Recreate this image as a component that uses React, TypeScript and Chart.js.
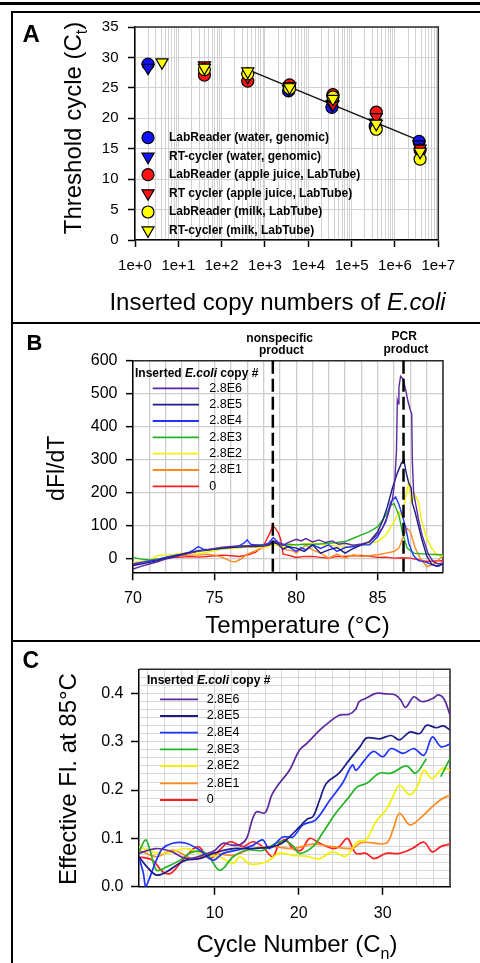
import React, { useEffect, useRef } from 'react';
import { Chart, registerables } from 'chart.js';
Chart.register(...registerables);

const FAM = "'Liberation Sans', Arial, Helvetica, sans-serif";
const fnt = (size: number, weight = 'normal', style = 'normal') => `${style} ${weight} ${size}px ${FAM}`;

// ---------------- Panel A data ----------------
const A_LABELS = [
  'LabReader (water, genomic)',
  'RT-cycler (water, genomic)',
  'LabReader (apple juice, LabTube)',
  'RT cycler (apple juice, LabTube)',
  'LabReader (milk, LabTube)',
  'RT-cycler (milk, LabTube)',
];
const A_WATER_X = [2, 3.5e3, 3.5e4, 3.5e5, 3.6e6];
const A_WATER_LR = [28.9, 24.5, 21.8, 18.7, 16.2];
const A_WATER_RT = [28.3, 24.8, 22.3, 19.3, 15.7];
const A_APPLE_X = [4e1, 4e2, 3.7e3, 3.7e4, 3.7e5, 3.8e6];
const A_APPLE_LR = [27.1, 26.1, 25.5, 23.9, 21.0, 14.8];
const A_APPLE_RT = [28.7, 26.8, 25.3, 22.3, 20.2, 15.0];
const A_MILK_X = [4e1, 4e2, 3.7e3, 3.7e4, 3.7e5, 3.8e6];
const A_MILK_LR = [28.0, 27.3, 24.9, 23.5, 18.2, 13.3];
const A_MILK_RT_X = [4.2, 4e1, 4e2, 3.7e3, 3.7e4, 3.7e5, 3.8e6];
const A_MILK_RT = [29.2, 28.3, 27.7, 25.1, 23.2, 19.1, 14.5];
const A_FIT_X = [4e2, 3.8e6];
const A_FIT_Y = [28.0, 16.3];
const A_Y_TICKS = [0, 5, 10, 15, 20, 25, 30, 35];
const A_DECADES = [0, 1, 2, 3, 4, 5, 6, 7];

// ---------------- Panel B / C legends ----------------
const COPY_LABELS = ['2.8E6', '2.8E5', '2.8E4', '2.8E3', '2.8E2', '2.8E1', '0'];
const COPY_COLORS = ['#5b2a9e', '#1c1c86', '#1f35ff', '#22b422', '#f2f200', '#ff8a1e', '#ff1e1e'];

// ---------------- Panel B data (Temperature °C, dFl/dT) ----------------
const B_E6 = [[70,-30],[70.5,-22],[71,-15],[71.5,-8],[72,0],[72.5,5],[73,12],[73.5,18],[74,24],[74.5,28],[75,32],[75.5,36],[76,38],[76.5,40],[77,40],[77.5,42],[78,40],[78.3,45],[78.6,55],[78.9,48],[79.2,42],[79.5,50],[80,60],[80.3,55],[80.6,62],[81,52],[81.4,58],[81.8,50],[82.2,55],[82.6,45],[83,48],[83.5,42],[84,46],[84.5,52],[85,75],[85.3,95],[85.6,130],[85.9,180],[86.05,240],[86.15,330],[86.2,480],[86.25,470],[86.3,520],[86.4,553],[86.55,545],[86.7,515],[86.85,478],[87,450],[87.08,440],[87.12,300],[87.2,200],[87.35,160],[87.5,120],[87.7,75],[87.9,45],[88.1,15],[88.4,-8],[88.7,-15],[89,-12]];
const B_E5 = [[70,-20],[70.5,-15],[71,-10],[71.5,-5],[72,2],[72.5,8],[73,14],[73.5,20],[74,25],[74.5,28],[75,30],[75.5,34],[76,35],[76.5,36],[77,38],[77.5,38],[78,40],[78.3,42],[78.6,50],[78.9,45],[79.2,30],[79.5,38],[80,33],[80.5,23],[81,43],[81.5,18],[82,28],[82.5,35],[83,18],[83.5,32],[84,43],[84.5,53],[85,83],[85.3,115],[85.6,160],[85.9,215],[86.2,260],[86.45,290],[86.6,300],[86.75,260],[86.9,230],[87.05,215],[87.12,170],[87.3,140],[87.5,100],[87.7,60],[88,10],[88.3,-15],[88.6,-22],[89,-15]];
const B_E4 = [[70,-15],[70.5,-10],[71,-6],[71.5,-2],[72,5],[72.5,10],[73,15],[73.5,22],[73.8,30],[74,38],[74.3,30],[74.6,28],[75,30],[75.5,33],[76,35],[76.5,40],[76.8,48],[77,58],[77.2,45],[77.6,42],[78,42],[78.3,48],[78.6,65],[78.9,50],[79.2,45],[79.6,35],[80,23],[80.3,35],[80.6,28],[81,43],[81.5,32],[82,43],[82.5,23],[83,35],[83.5,38],[84,43],[84.5,43],[85,68],[85.5,113],[85.8,173],[86.1,188],[86.3,165],[86.5,133],[86.7,98],[86.9,48],[87.2,10],[87.5,-5],[88,-10],[88.4,-18],[88.7,-22],[89,-15]];
const B_E3 = [[70,5],[70.5,0],[71,-3],[71.5,0],[72,5],[72.5,10],[73,15],[73.5,20],[74,24],[74.5,26],[75,30],[75.5,32],[76,36],[76.5,38],[77,40],[77.5,42],[78,44],[78.3,45],[78.6,52],[78.9,46],[79.2,42],[79.6,45],[80,43],[80.5,45],[81,44],[81.5,46],[82,48],[82.5,50],[83,53],[83.5,63],[84,73],[84.5,83],[85,98],[85.5,133],[85.8,163],[86,168],[86.3,133],[86.5,83],[86.8,33],[87.2,18],[87.6,16],[88,15],[88.5,14],[89,13]];
const B_E2 = [[70,-10],[70.5,-8],[71,-3],[71.5,10],[72,12],[72.5,14],[73,18],[73.5,20],[74,16],[74.5,20],[75,26],[75.5,30],[76,32],[76.5,34],[77,36],[77.5,35],[78,34],[78.3,38],[78.6,45],[78.9,40],[79.2,35],[79.6,40],[80,43],[80.5,46],[81,48],[81.5,45],[82,42],[82.5,40],[83,38],[83.5,40],[84,43],[84.5,48],[85,53],[85.5,73],[86,113],[86.3,143],[86.5,128],[86.65,173],[86.9,233],[87.05,173],[87.3,193],[87.5,173],[87.7,113],[88,63],[88.3,33],[88.6,13],[89,10]];
const B_E1 = [[70,-12],[70.5,-8],[71,-4],[71.5,0],[72,4],[72.5,8],[73,10],[73.5,12],[74,12],[74.5,15],[75,12],[75.5,5],[76,-7],[76.3,-8],[76.6,0],[77,15],[77.5,25],[78,35],[78.3,40],[78.6,50],[78.8,55],[79,40],[79.4,28],[79.8,25],[80,18],[80.3,30],[80.6,43],[81,28],[81.5,18],[82,3],[82.5,15],[83,3],[83.5,13],[84,8],[84.5,10],[85,13],[85.5,18],[86,23],[86.3,33],[86.6,73],[86.8,93],[87,83],[87.3,33],[87.6,3],[88,-22],[88.3,-18],[88.6,-10],[89,13]];
const B_ZERO = [[70,-18],[70.5,-10],[71,-5],[71.5,0],[72,3],[72.5,5],[73,6],[73.5,8],[74,6],[74.5,8],[75,10],[75.5,12],[76,10],[76.5,8],[77,12],[77.5,20],[78,40],[78.2,60],[78.4,80],[78.55,100],[78.7,95],[78.9,80],[79.05,60],[79.2,15],[79.5,12],[80,5],[80.5,8],[81,8],[81.5,5],[82,3],[82.5,8],[83,8],[83.5,10],[84,11],[84.5,8],[85,5],[85.5,6],[86,3],[86.5,4],[87,3],[87.5,-2],[88,-7],[88.5,-6],[89,-5]];
const B_SERIES = [B_E6, B_E5, B_E4, B_E3, B_E2, B_E1, B_ZERO];
const B_DASH_T = [78.57, 86.58];

// ---------------- Panel C data (cycle, effective Fl.) ----------------
const C_E6 = [[1,0.069],[2,0.075],[3,0.079],[4,0.077],[5,0.072],[6,0.062],[7,0.058],[8,0.062],[9,0.068],[10,0.075],[11,0.09],[12,0.086],[13,0.087],[13.8,0.1],[14.5,0.14],[15,0.155],[16,0.153],[16.8,0.19],[17.7,0.214],[18.9,0.241],[20.1,0.283],[21,0.297],[22.5,0.324],[23.6,0.34],[24.8,0.355],[26,0.357],[26.8,0.368],[27.2,0.383],[28,0.39],[29.2,0.4],[30.5,0.399],[31.5,0.397],[32.2,0.385],[32.7,0.371],[33.7,0.393],[34.4,0.385],[34.9,0.383],[36,0.39],[36.6,0.397],[37.3,0.388],[38,0.355]];
const C_E5 = [[1,0.062],[2,0.04],[3.1,0.024],[4.3,0.031],[5.5,0.045],[6.6,0.055],[8.2,0.058],[9.8,0.069],[11,0.075],[12.2,0.079],[14.5,0.079],[16.9,0.083],[18,0.09],[18.9,0.103],[20.1,0.124],[21,0.14],[21.7,0.145],[22.5,0.18],[23.3,0.214],[24.8,0.235],[26,0.262],[27.3,0.29],[28.1,0.308],[29.6,0.306],[31,0.313],[32,0.304],[33.2,0.32],[34.4,0.317],[35.2,0.334],[36.4,0.329],[37.2,0.333],[38,0.324]];
const C_E4 = [[1,0.06],[1.5,0.03],[1.8,0.0],[2.2,0.015],[2.6,0.034],[3.2,0.06],[3.8,0.079],[5,0.09],[6.6,0.09],[8.2,0.076],[9.8,0.055],[11,0.069],[13,0.077],[14.5,0.085],[15.7,0.097],[16.5,0.079],[18.1,0.103],[19.3,0.103],[20.5,0.128],[22,0.138],[23.7,0.179],[25.2,0.214],[26.4,0.252],[26.8,0.241],[27.7,0.259],[28.9,0.28],[30,0.269],[31,0.286],[32.4,0.276],[33.7,0.286],[34.9,0.272],[35.9,0.31],[36.9,0.29],[38,0.295]];
const C_E3 = [[1,0.072],[1.8,0.097],[2.4,0.07],[3.1,0.034],[4.3,0.041],[5.9,0.055],[7.4,0.072],[9,0.069],[10.6,0.034],[12.2,0.062],[13.8,0.076],[15.7,0.075],[17.3,0.09],[18.5,0.094],[19.3,0.085],[20.1,0.069],[21.7,0.083],[22.8,0.11],[24.4,0.152],[26,0.186],[27,0.207],[28.1,0.214],[29.6,0.235],[31,0.235],[32.8,0.25],[33.9,0.235],[35.2,0.265],[36,null],[36.9,0.228],[37.9,0.262],[38,0.265]];
const C_E2 = [[1,0.083],[2.6,0.072],[4.3,0.069],[6.6,0.079],[9,0.065],[10.6,0.062],[12.2,0.048],[13,0.062],[14.2,0.047],[16.1,0.051],[17.7,0.069],[19.3,0.065],[20.9,0.063],[22.5,0.058],[24,0.072],[25.6,0.063],[27,0.093],[28,0.097],[29.2,0.135],[30.4,0.159],[31.2,0.186],[32,0.21],[33.2,0.19],[34.1,0.207],[34.9,0.241],[35.9,0.224],[37.1,0.245],[38,0.241]];
const C_E1 = [[1,0.076],[3.1,0.062],[5,0.076],[7.4,0.058],[9.8,0.069],[12.2,0.065],[14.5,0.079],[16.9,0.083],[19.3,0.079],[21.7,0.088],[24,0.083],[26.4,0.079],[27.3,0.09],[28,0.092],[30.4,0.09],[31.2,0.117],[32,0.152],[33.2,0.128],[34.4,0.141],[35.5,0.159],[36.8,0.179],[38,0.19]];
const C_ZERO = [[1,0.062],[2.6,0.055],[3.8,0.031],[4.8,0.028],[6.2,0.055],[8,0.083],[9.4,0.058],[10.6,0.076],[11.8,0.093],[13.4,0.083],[14.5,0.093],[15.7,0.083],[16.9,0.062],[17.7,0.09],[18.5,0.097],[19.3,0.079],[20.3,0.076],[21.3,0.1],[22.5,0.09],[24,0.079],[24.8,0.083],[25.8,0.1],[26.8,0.069],[28,0.069],[29,0.058],[30.4,0.069],[32,0.069],[33.5,0.079],[34.9,0.092],[35.9,0.072],[36.9,0.083],[38,0.088]];
const C_SERIES = [C_E6, C_E5, C_E4, C_E3, C_E2, C_E1, C_ZERO];

// ---------------- helpers ----------------
type Part = { t: string; f: string; dy?: number };
function drawParts(ctx: any, parts: Part[], x: number, y: number, align = 'left', rot = 0, baseline = 'alphabetic') {
  ctx.save();
  ctx.translate(x, y);
  ctx.rotate(rot);
  ctx.textBaseline = baseline;
  ctx.textAlign = 'left';
  ctx.fillStyle = '#000';
  let total = 0;
  for (const p of parts) { ctx.font = p.f; total += ctx.measureText(p.t).width; }
  let cx = align === 'center' ? -total / 2 : align === 'right' ? -total : 0;
  for (const p of parts) {
    ctx.font = p.f;
    ctx.fillText(p.t, cx, p.dy || 0);
    cx += ctx.measureText(p.t).width;
  }
  ctx.restore();
}

function drawFrame(chart: any) {
  const { ctx, chartArea: a } = chart;
  ctx.save();
  ctx.strokeStyle = '#2a2a2a';
  ctx.lineWidth = 1.5;
  ctx.beginPath();
  ctx.moveTo(a.left, a.top);
  ctx.lineTo(a.right, a.top);
  ctx.lineTo(a.right, a.bottom);
  ctx.stroke();
  ctx.restore();
}

function drawLineLegend(ctx: any, o: any) {
  drawParts(ctx, [
    { t: 'Inserted ', f: fnt(12, 'bold') },
    { t: 'E.coli', f: fnt(12, 'bold', 'italic') },
    { t: ' copy #', f: fnt(12, 'bold') },
  ], o.titleX, o.titleY, 'left', 0, 'middle');
  COPY_LABELS.forEach((lab, i) => {
    const y = o.rows[i];
    ctx.save();
    ctx.strokeStyle = COPY_COLORS[i];
    ctx.lineWidth = 1.8;
    ctx.beginPath();
    ctx.moveTo(o.x0, y);
    ctx.lineTo(o.x1, y);
    ctx.stroke();
    ctx.restore();
    drawParts(ctx, [{ t: lab, f: fnt(12.5) }], o.tx, y, 'left', 0, 'middle');
  });
}

const isDecade = (v: number) => Math.abs(Math.log10(v) - Math.round(Math.log10(v))) < 1e-9;
const toXY = (arr: any[]) => arr.map((p) => ({ x: p[0], y: p[1] }));

// ---------------- Panel A ----------------
function buildA(): any {
  const BLUE = '#1212ff', RED = '#ff1212', YEL = '#ffff00';
  const defs = [
    { xs: A_WATER_X, ys: A_WATER_LR, c: BLUE, tri: false, order: 5 },
    { xs: A_WATER_X, ys: A_WATER_RT, c: BLUE, tri: true, order: 4 },
    { xs: A_APPLE_X, ys: A_APPLE_LR, c: RED, tri: false, order: 3 },
    { xs: A_APPLE_X, ys: A_APPLE_RT, c: RED, tri: true, order: 2 },
    { xs: A_MILK_X, ys: A_MILK_LR, c: YEL, tri: false, order: 1 },
    { xs: A_MILK_RT_X, ys: A_MILK_RT, c: YEL, tri: true, order: 0 },
  ];
  const datasets: any[] = defs.map((d, i) => ({
    type: 'scatter',
    label: A_LABELS[i],
    data: d.xs.map((x, k) => ({ x, y: d.ys[k] })),
    pointStyle: d.tri ? 'triangle' : 'circle',
    rotation: d.tri ? 180 : 0,
    pointRadius: d.tri ? 7 : 6,
    backgroundColor: d.c,
    borderColor: '#000',
    borderWidth: 1.2,
    order: d.order,
  }));
  datasets.push({
    type: 'line',
    label: 'fit',
    data: A_FIT_X.map((x, k) => ({ x, y: A_FIT_Y[k] })),
    borderColor: '#111',
    borderWidth: 1.4,
    pointRadius: 0,
    showLine: true,
    order: 10,
  });
  const grid: number[] = [];
  for (const e of A_DECADES) {
    for (let m = 1; m <= 9; m++) {
      const v = m * Math.pow(10, e);
      if (v <= 1e7) grid.push(v);
    }
  }
  return {
    type: 'scatter',
    data: { datasets },
    options: {
      animation: false,
      responsive: false,
      devicePixelRatio: 1,
      layout: { padding: { left: 75, right: 41.7, top: 27, bottom: 42 } },
      plugins: { legend: { display: false }, tooltip: { enabled: false } },
      scales: {
        x: {
          type: 'logarithmic',
          min: 1,
          max: 1e7,
          afterBuildTicks: (s: any) => { s.ticks = grid.map((v) => ({ value: v, major: isDecade(v) })); },
          afterFit: (s: any) => { s.height = 40; },
          ticks: {
            autoSkip: false, maxRotation: 0, minRotation: 0, padding: 10,
            color: '#000', font: { size: 15, family: FAM },
            callback: (v: number) => (isDecade(v) ? `1e+${Math.round(Math.log10(v))}` : ''),
          },
          grid: {
            color: '#d2d2d2', lineWidth: 1, tickLength: 7, tickWidth: 1.5,
            tickColor: (c: any) => (c.tick && isDecade(c.tick.value) ? '#000' : 'rgba(0,0,0,0)'),
          },
          border: { color: '#000', width: 1.5 },
        },
        y: {
          type: 'linear',
          min: 0,
          max: 35,
          afterBuildTicks: (s: any) => { s.ticks = A_Y_TICKS.map((v) => ({ value: v })); },
          afterFit: (s: any) => { s.width = 60; },
          ticks: { padding: 9.5, color: '#000', font: { size: 15, family: FAM } },
          grid: { color: '#d2d2d2', lineWidth: 1, tickLength: 7, tickWidth: 1.5, tickColor: '#000' },
          border: { color: '#000', width: 1.5 },
        },
      },
    },
    plugins: [{
      id: 'decorA',
      beforeDatasetsDraw: (chart: any) => drawFrame(chart),
      afterDraw: (chart: any) => {
        const ctx = chart.ctx;
        drawParts(ctx, [{ t: 'A', f: fnt(24, 'bold') }], 22.5, 42);
        drawParts(ctx, [
          { t: 'Threshold cycle (C', f: fnt(24) },
          { t: 't', f: fnt(16), dy: 6 },
          { t: ')', f: fnt(24) },
        ], 80.5, 128, 'center', -Math.PI / 2);
        drawParts(ctx, [
          { t: 'Inserted copy numbers of ', f: fnt(24) },
          { t: 'E.coli', f: fnt(24, 'normal', 'italic') },
        ], 277.5, 309.5, 'center');
        const rows = [137.7, 156.7, 174.7, 193.3, 212, 230.3];
        defs.forEach((d, i) => {
          const x = 148, y = rows[i];
          ctx.save();
          ctx.fillStyle = d.c;
          ctx.strokeStyle = '#000';
          ctx.lineWidth = 1.2;
          ctx.beginPath();
          if (d.tri) {
            const r = 7;
            ctx.moveTo(x, y + r);
            ctx.lineTo(x - r * 0.866, y - r / 2);
            ctx.lineTo(x + r * 0.866, y - r / 2);
            ctx.closePath();
          } else {
            ctx.arc(x, y, 6, 0, Math.PI * 2);
          }
          ctx.fill();
          ctx.stroke();
          ctx.restore();
          drawParts(ctx, [{ t: A_LABELS[i], f: fnt(12, 'bold') }], 169, y, 'left', 0, 'middle');
        });
      },
    }],
  };
}

// ---------------- Panel B ----------------
function buildB(): any {
  const xt: number[] = [];
  for (let t = 70; t <= 89; t++) xt.push(t);
  const yt = [0, 100, 200, 300, 400, 500, 600];
  return {
    type: 'line',
    data: {
      datasets: B_SERIES.map((s, i) => ({
        label: COPY_LABELS[i],
        data: toXY(s),
        borderColor: COPY_COLORS[i],
        borderWidth: 1.4,
        pointRadius: 0,
        tension: 0,
        fill: false,
      })),
    },
    options: {
      animation: false,
      responsive: false,
      devicePixelRatio: 1,
      layout: { padding: { left: 73, right: 37, top: 38.7, bottom: 28.7 } },
      plugins: { legend: { display: false }, tooltip: { enabled: false } },
      scales: {
        x: {
          type: 'linear', min: 70, max: 89,
          afterBuildTicks: (s: any) => { s.ticks = xt.map((v) => ({ value: v })); },
          afterFit: (s: any) => { s.height = 40; },
          ticks: {
            autoSkip: false, maxRotation: 0, minRotation: 0, padding: 9,
            color: '#000', font: { size: 16, family: FAM },
            callback: (v: number) => (v % 5 === 0 ? String(v) : ''),
          },
          grid: {
            color: '#cdcdcd', lineWidth: 1.3, tickLength: 8, tickWidth: 1.5,
            tickColor: (c: any) => (c.tick && c.tick.value % 5 === 0 ? '#000' : 'rgba(0,0,0,0)'),
          },
          border: { color: '#000', width: 1.5 },
        },
        y: {
          type: 'linear', min: -40, max: 600,
          afterBuildTicks: (s: any) => { s.ticks = yt.map((v) => ({ value: v })); },
          afterFit: (s: any) => { s.width = 60; },
          ticks: { padding: 8.5, color: '#000', font: { size: 16, family: FAM } },
          grid: { color: '#cdcdcd', lineWidth: 1.3, tickLength: 7, tickWidth: 1.5, tickColor: '#000' },
          border: { color: '#000', width: 1.5 },
        },
      },
    },
    plugins: [{
      id: 'decorB',
      beforeDatasetsDraw: (chart: any) => drawFrame(chart),
      afterDatasetsDraw: (chart: any) => {
        const { ctx, chartArea: a, scales } = chart;
        ctx.save();
        ctx.strokeStyle = '#000';
        ctx.lineWidth = 2.5;
        ctx.setLineDash([13, 5]);
        for (const t of B_DASH_T) {
          const x = scales.x.getPixelForValue(t);
          ctx.beginPath();
          ctx.moveTo(x, a.top);
          ctx.lineTo(x, a.bottom);
          ctx.stroke();
        }
        ctx.restore();
      },
      afterDraw: (chart: any) => {
        const ctx = chart.ctx;
        drawParts(ctx, [{ t: 'B', f: fnt(22, 'bold') }], 26.5, 27.6);
        drawParts(ctx, [{ t: 'dFl/dT', f: fnt(23) }], 63.5, 146.3, 'center', -Math.PI / 2);
        drawParts(ctx, [{ t: 'Temperature (°C)', f: fnt(24) }], 297.5, 311, 'center');
        drawParts(ctx, [{ t: 'nonspecific', f: fnt(12, 'bold') }], 279.7, 16.3, 'center', 0, 'middle');
        drawParts(ctx, [{ t: 'product', f: fnt(12, 'bold') }], 281.3, 29, 'center', 0, 'middle');
        drawParts(ctx, [{ t: 'PCR', f: fnt(12, 'bold') }], 404.2, 15, 'center', 0, 'middle');
        drawParts(ctx, [{ t: 'product', f: fnt(12, 'bold') }], 405.8, 28, 'center', 0, 'middle');
        drawLineLegend(ctx, {
          titleX: 135, titleY: 51.3, x0: 152.7, x1: 199, tx: 209.3,
          rows: [66.3, 82.7, 99, 115.3, 131.7, 148, 164.3],
        });
      },
    }],
  };
}

// ---------------- Panel C ----------------
function buildC(): any {
  const xt: number[] = [];
  for (let c = 2; c <= 38; c += 2) xt.push(c);
  const yt: number[] = [];
  for (let k = 0; k <= 27; k++) yt.push(k / 60);
  const isMajY = (v: number) => Math.abs(v * 10 - Math.round(v * 10)) < 1e-6;
  return {
    type: 'line',
    data: {
      datasets: C_SERIES.map((s, i) => ({
        label: COPY_LABELS[i],
        data: toXY(s),
        borderColor: COPY_COLORS[i],
        borderWidth: 1.7,
        pointRadius: 0,
        tension: 0.35,
        spanGaps: false,
        fill: false,
      })),
    },
    options: {
      animation: false,
      responsive: false,
      devicePixelRatio: 1,
      layout: { padding: { left: 79, right: 30, top: 28.3, bottom: 36.3 } },
      plugins: { legend: { display: false }, tooltip: { enabled: false } },
      scales: {
        x: {
          type: 'linear', min: 1, max: 38,
          afterBuildTicks: (s: any) => { s.ticks = xt.map((v) => ({ value: v })); },
          afterFit: (s: any) => { s.height = 40; },
          ticks: {
            autoSkip: false, maxRotation: 0, minRotation: 0, padding: 9.5,
            color: '#000', font: { size: 16, family: FAM },
            callback: (v: number) => (v % 10 === 0 ? String(v) : ''),
          },
          grid: {
            color: '#d6d6d6', lineWidth: 1, tickLength: 8, tickWidth: 1.5,
            tickColor: (c: any) => (c.tick && c.tick.value % 10 === 0 ? '#000' : 'rgba(0,0,0,0)'),
          },
          border: { color: '#000', width: 1.5 },
        },
        y: {
          type: 'linear', min: 0, max: 0.45,
          afterBuildTicks: (s: any) => { s.ticks = yt.map((v) => ({ value: v })); },
          afterFit: (s: any) => { s.width = 60; },
          ticks: {
            autoSkip: false, padding: 7.5, color: '#000', font: { size: 16, family: FAM },
            callback: (v: number) => (isMajY(v) ? v.toFixed(1) : ''),
          },
          grid: {
            color: '#d6d6d6', lineWidth: 1, tickLength: 8, tickWidth: 1.5,
            tickColor: (c: any) => (c.tick && isMajY(c.tick.value) ? '#000' : 'rgba(0,0,0,0)'),
          },
          border: { color: '#000', width: 1.5 },
        },
      },
    },
    plugins: [{
      id: 'decorC',
      beforeDatasetsDraw: (chart: any) => drawFrame(chart),
      afterDraw: (chart: any) => {
        const ctx = chart.ctx;
        drawParts(ctx, [{ t: 'C', f: fnt(23, 'bold') }], 22.5, 27.2);
        drawParts(ctx, [{ t: 'Effective Fl. at 85°C', f: fnt(24) }], 75.8, 138, 'center', -Math.PI / 2);
        drawParts(ctx, [
          { t: 'Cycle Number (C', f: fnt(24) },
          { t: 'n', f: fnt(16), dy: 7 },
          { t: ')', f: fnt(24) },
        ], 297, 310.5, 'center');
        drawLineLegend(ctx, {
          titleX: 147, titleY: 39.7, x0: 160, x1: 198, tx: 206.7,
          rows: [58.3, 75, 91.7, 108.3, 125, 142.3, 159],
        });
      },
    }],
  };
}

function ChartCanvas({ top, height, build }: { top: number; height: number; build: () => any }) {
  const ref = useRef<HTMLCanvasElement | null>(null);
  useEffect(() => {
    const chart = new Chart(ref.current as HTMLCanvasElement, build());
    return () => chart.destroy();
  }, []);
  return (
    <canvas
      ref={ref}
      width={480}
      height={height}
      style={{ position: 'absolute', left: 0, top, width: 480, height, display: 'block' }}
    />
  );
}

export default function App() {
  const line = (style: any) => <div style={{ position: 'absolute', background: '#000', ...style }} />;
  return (
    <div style={{ position: 'absolute', left: 0, top: 0, width: 480, height: 963, overflow: 'hidden', background: '#fff' }}>
      <ChartCanvas top={0} height={322} build={buildA} />
      <ChartCanvas top={322} height={319} build={buildB} />
      <ChartCanvas top={641} height={322} build={buildC} />
      {line({ left: 0, top: 2, width: 480, height: 3 })}
      {line({ left: 11, top: 11, width: 469, height: 2 })}
      {line({ left: 11, top: 11, width: 2, height: 952 })}
      {line({ left: 11, top: 321.5, width: 469, height: 2 })}
      {line({ left: 11, top: 640, width: 469, height: 2 })}
    </div>
  );
}
